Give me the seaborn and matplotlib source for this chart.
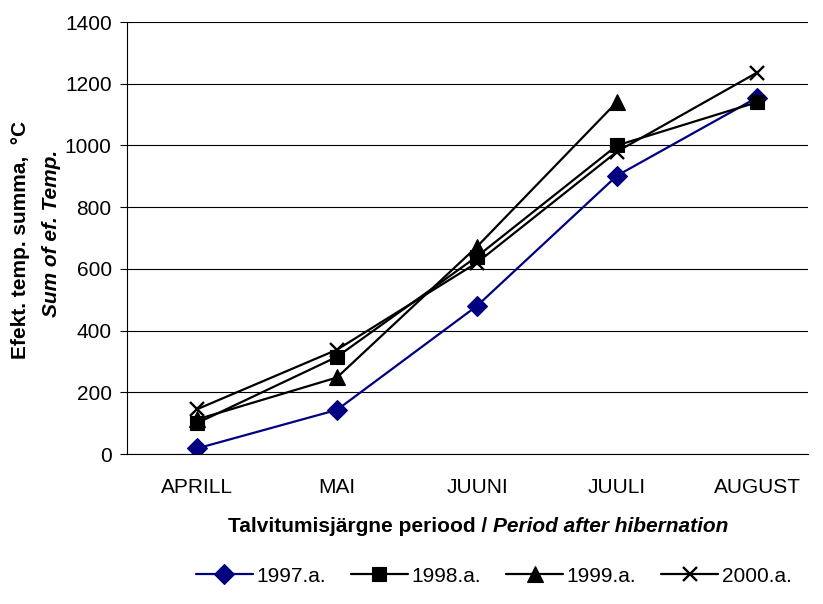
import numpy as np
import pandas as pd
import matplotlib
matplotlib.use("Agg")
import matplotlib.pyplot as plt
import seaborn as sns
from matplotlib.offsetbox import TextArea, HPacker, AnnotationBbox

# Data
months = ["APRILL", "MAI", "JUUNI", "JUULI", "AUGUST"]
y1997 = [18, 143, 480, 902, 1155]
y1998 = [100, 315, 640, 1000, 1140]
y1999 = [112, 248, 672, 1141, np.nan]
y2000 = [145, 338, 620, 980, 1236]
series_names = ["1997.a.", "1998.a.", "1999.a.", "2000.a."]

sns.set_style("white")
plt.rcParams["font.family"] = ["Liberation Sans", "DejaVu Sans"]
plt.rcParams["text.color"] = "black"
plt.rcParams["xtick.color"] = "black"
plt.rcParams["ytick.color"] = "black"
plt.rcParams["axes.labelcolor"] = "black"

pos = np.arange(len(months))
df = pd.DataFrame({"pos": pos, "1997.a.": y1997, "1998.a.": y1998,
                   "1999.a.": y1999, "2000.a.": y2000})

fig = plt.figure(figsize=(8.23, 6.04), dpi=100)
ax = fig.add_axes([127 / 823, 1 - 454 / 604, (808 - 127) / 823, (454 - 22) / 604])

styles = {
    "1997.a.": dict(color="#000080", marker="D", ms=10.5),
    "1998.a.": dict(color="black", marker="s", ms=10),
    "1999.a.": dict(color="black", marker="^", ms=11.5),
    "2000.a.": dict(color="black", marker="x", ms=10.5, mew=1.7),
}
for name in series_names:
    st = styles[name]
    sns.lineplot(data=df, x="pos", y=name, ax=ax, color=st["color"],
                 marker=st["marker"], markersize=st["ms"],
                 markeredgewidth=st.get("mew", 0.8),
                 markeredgecolor=st["color"], linewidth=1.6, label=name)

ax.set_ylim(0, 1400)
ax.set_yticks(range(0, 1401, 200))
ax.set_xticks(pos)
ax.set_xticklabels(months, fontsize=15)
ax.set_xticks(np.arange(-0.5, 4.6, 1), minor=True)
ax.set_xlim(-0.5, -0.5 + (808 - 127) / 140)
ax.tick_params(axis="x", which="major", length=0, pad=17)
ax.tick_params(axis="x", which="minor", length=5, width=0.8, color="black", direction="out")
ax.tick_params(axis="y", length=5, width=0.8, color="black", direction="out",
               labelsize=15, pad=6, left=True)
ax.yaxis.grid(True, color="black", linewidth=0.8)
ax.set_axisbelow(True)
for s in ["top", "right"]:
    ax.spines[s].set_visible(False)
for s in ["left", "bottom"]:
    ax.spines[s].set_color("black")
    ax.spines[s].set_linewidth(0.8)
ax.set_xlabel("")
ax.set_ylabel("")

# y axis label, two lines
fig.text(21 / 823, 1 - 240 / 604, "Efekt. temp. summa,  °C", rotation=90,
         ha="center", va="center", fontsize=15, fontweight="bold")
fig.text(52 / 823, 1 - 233 / 604, "Sum of ef. Temp.", rotation=90,
         ha="center", va="center", fontsize=15, fontweight="bold", fontstyle="italic")

# x axis label, mixed styles
t1 = TextArea("Talvitumisjärgne periood / ",
              textprops=dict(fontsize=15, fontweight="bold", family=["Liberation Sans"]))
t2 = TextArea("Period after hibernation",
              textprops=dict(fontsize=15, fontweight="bold", fontstyle="italic",
                             family=["Liberation Sans"]))
pack = HPacker(children=[t1, t2], align="baseline", pad=0, sep=0)
ab = AnnotationBbox(pack, (478 / 823, 1 - 527 / 604), xycoords="figure fraction",
                    frameon=False, box_alignment=(0.5, 0.5))
fig.add_artist(ab)

handles, labels = ax.get_legend_handles_labels()
ax.legend(handles, labels, loc="center", bbox_to_anchor=(494 / 823, 1 - 576 / 604),
          bbox_transform=fig.transFigure, ncol=4, frameon=False, fontsize=15,
          handlelength=2.7, handletextpad=0.2, columnspacing=1.2,
          borderpad=0, borderaxespad=0)

fig.savefig("out.png", dpi=100)
